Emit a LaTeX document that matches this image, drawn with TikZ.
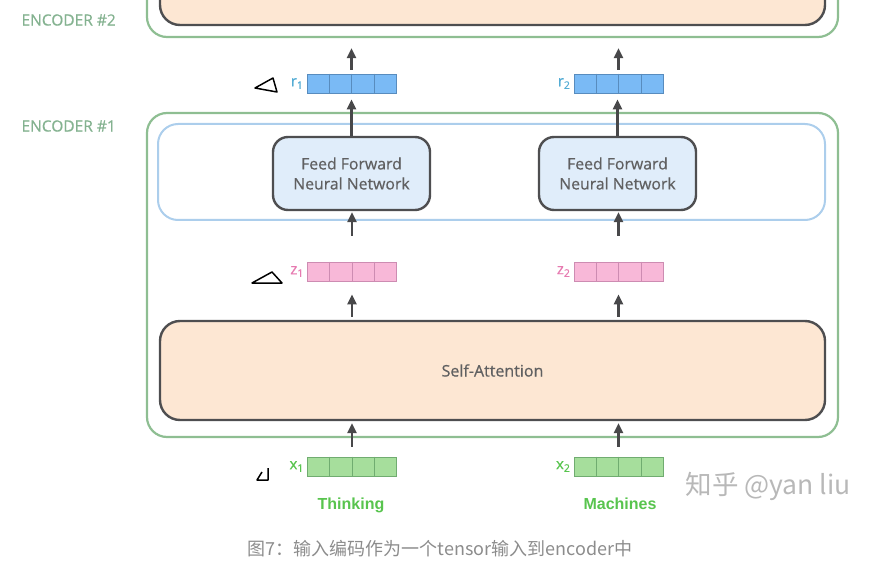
\documentclass[tikz,border=0pt]{standalone}
\usepackage{fontspec}
\setmainfont{Open Sans}
\newfontfamily\semibold{Open Sans}[FakeBold=0.6]
\newfontfamily\cjk{Noto Sans CJK SC}
\newfontfamily\boldsans{Liberation Sans}
\usetikzlibrary{positioning, arrows.meta, calc}

\definecolor{encgreen}{RGB}{142,190,146}
\definecolor{enclabel}{RGB}{132,178,144}
\definecolor{safill}{RGB}{253,231,211}
\definecolor{boxline}{RGB}{78,78,80}
\definecolor{ffline}{RGB}{172,206,236}
\definecolor{fffill}{RGB}{224,237,250}
\definecolor{rfill}{RGB}{122,186,245}
\definecolor{rline}{RGB}{88,140,190}
\definecolor{rtext}{RGB}{84,172,212}
\definecolor{zfill}{RGB}{248,184,216}
\definecolor{zline}{RGB}{205,140,178}
\definecolor{ztext}{RGB}{230,122,176}
\definecolor{xfill}{RGB}{166,222,156}
\definecolor{xline}{RGB}{112,172,112}
\definecolor{xtext}{RGB}{88,196,78}
\definecolor{arrowgray}{RGB}{72,72,74}
\definecolor{captiongray}{RGB}{140,140,140}

\begin{document}
\begin{tikzpicture}[
			x=1pt, y=-1pt,
			encoder/.style={rectangle, draw=encgreen, line width=2.2pt, rounded corners=20pt},
			layerbox/.style={rectangle, draw=boxline, line width=2.4pt, rounded corners=20pt, fill=safill},
			ffbox/.style={rectangle, draw=boxline, line width=2.4pt, rounded corners=15pt, fill=fffill,
				minimum width=157pt, minimum height=73pt, align=center, text=boxline!90,
				font=\semibold\fontsize{15.8pt}{20pt}\selectfont},
			vec/.style={rectangle, line width=0.8pt, minimum width=89pt, minimum height=19pt, inner sep=0pt},
			veclabel/.style={left=2pt of #1, font=\semibold\fontsize{15pt}{16pt}\selectfont, inner sep=1pt},
			enclabeltext/.style={text=enclabel, font=\semibold\fontsize{15.5pt}{16pt}\selectfont, anchor=west},
			word/.style={text=xtext, font=\boldsans\bfseries\fontsize{16pt}{18pt}\selectfont, anchor=base},
			arrow/.style={-{Triangle[length=10pt, width=9pt]}, line width=2.4pt, draw=arrowgray},
			scribble/.style={draw=black, line width=1.5pt, line join=round}
			]
			\useasboundingbox (0,0) rectangle (870,564);
			
			% Encoder #2 (cut by the top edge)
			\node (enc2) [encoder, minimum width=691pt, minimum height=97pt] at (492.5,-11.5) {};
			\node (enc2layer) [layerbox, minimum width=665pt, minimum height=85pt] at (492.5,-17.5) {};
			\node (enc2label) [enclabeltext] at (18,20) {ENCODER \#2};
			
			% Encoder #1
			\node (enc1) [encoder, minimum width=691pt, minimum height=324pt] at (492.5,275) {};
			\node (enc1label) [enclabeltext] at (18,126) {ENCODER \#1};
			\node (ffnlayer) [rectangle, draw=ffline, line width=2pt, rounded corners=20pt, fill=white,
				minimum width=667pt, minimum height=96pt] at (491.5,172) {};
			\node (ffn1) [ffbox] at (351.5,173.5) {Feed Forward\\Neural Network};
			\node (ffn2) [ffbox] at (617.5,173.5) {Feed Forward\\Neural Network};
			\node (selfatt) [layerbox, minimum width=665pt, minimum height=99pt,
				text=boxline!90, font=\semibold\fontsize{16pt}{18pt}\selectfont] at (492.5,370.5) {Self-Attention};
			
			% Vectors
			\node (r1) [vec, draw=rline, fill=rfill] at (351.5,83.5) {};
			\node (r2) [vec, draw=rline, fill=rfill] at (618.5,83.5) {};
			\node (z1) [vec, draw=zline, fill=zfill] at (352,271.5) {};
			\node (z2) [vec, draw=zline, fill=zfill] at (618.5,271.5) {};
			\node (x1) [vec, draw=xline, fill=xfill] at (352,466.5) {};
			\node (x2) [vec, draw=xline, fill=xfill] at (618.5,466.5) {};
			\foreach \v/\c in {r1/rline, r2/rline, z1/zline, z2/zline, x1/xline, x2/xline}
				\foreach \k in {1,2,3}
					\draw [\c, line width=0.8pt] ($(\v.north west)!\k/4!(\v.north east)$) -- ($(\v.south west)!\k/4!(\v.south east)$);
			
			\node (r1label) [veclabel=r1, text=rtext] {r\textsubscript{1}};
			\node (r2label) [veclabel=r2, text=rtext] {r\textsubscript{2}};
			\node (z1label) [veclabel=z1, text=ztext] {z\textsubscript{1}};
			\node (z2label) [veclabel=z2, text=ztext] {z\textsubscript{2}};
			\node (x1label) [veclabel=x1, text=xtext] {x\textsubscript{1}};
			\node (x2label) [veclabel=x2, text=xtext] {x\textsubscript{2}};
			
			\node (thinking) [word] at (351,509) {Thinking};
			\node (machines) [word] at (620,509) {Machines};
			
			% Watermark and caption
			\node (mark) [text=black!28, font=\cjk\fontsize{26.5pt}{28pt}\selectfont, anchor=west] at (682,486) {知乎 @yan liu};
			\node (caption) [text=captiongray, font=\cjk\fontsize{18pt}{20pt}\selectfont] at (440,549) {图7：输入编码作为一个tensor输入到encoder中};
			
			% Arrows
			\foreach \i in {1,2} {
				\draw [arrow, shorten <=10pt, shorten >=2pt] (x\i.north) -- (x\i.north |- selfatt.south);
				\draw [arrow, shorten <=3pt, shorten >=13pt] (z\i.south |- selfatt.north) -- (z\i.south);
				\draw [arrow, shorten <=26pt, shorten >=1pt] (z\i.north) -- (z\i.north |- ffn\i.south);
				\draw [arrow, shorten >=6pt] (ffn\i.north) -- (ffn\i.north |- r\i.south);
				\draw [arrow, shorten <=4pt, shorten >=10pt] (r\i.north) -- (r\i.north |- enc2.south);
			}
			
			% Hand-drawn marks
			\draw [scribble] (255,88) -- (273,78) -- (277,92) -- cycle;
			\draw [scribble] (252,283) -- (272,272) -- (282,283) -- cycle;
			\draw [scribble] (262,472) -- (257,480) -- (268,480) -- (268,468);
		\end{tikzpicture}
\end{document}
